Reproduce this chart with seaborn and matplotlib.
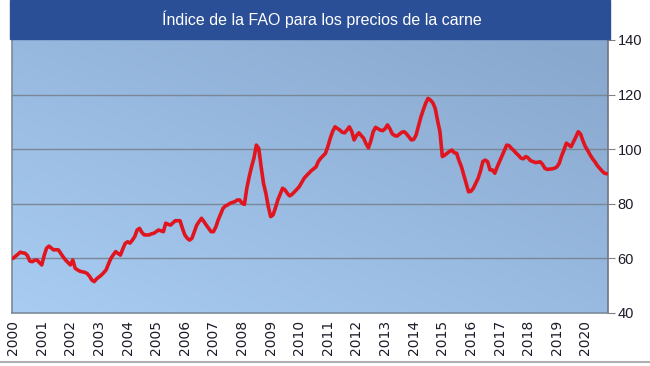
import numpy as np
import pandas as pd
import matplotlib
matplotlib.use("Agg")
import matplotlib.pyplot as plt
import seaborn as sns
from matplotlib.patches import Rectangle

# monthly FAO meat price index, Jan 2000 - Oct 2020
v2000 = [60.0, 60.8, 61.5, 62.3, 62.0, 61.9, 61.0, 59.0, 58.8, 59.3, 59.4, 58.5]
v2001 = [57.6, 61.0, 63.7, 64.5, 63.8, 63.1, 63.2, 63.1, 61.8, 60.5, 59.4, 58.5]
v2002 = [57.6, 59.4, 56.4, 55.8, 55.3, 55.1, 54.9, 54.5, 53.5, 52.1, 51.5, 52.5]
v2003 = [53.2, 53.9, 54.8, 55.8, 58.0, 60.0, 61.3, 62.5, 61.8, 61.2, 63.5, 65.5]
v2004 = [66.1, 65.6, 66.7, 68.0, 70.4, 71.0, 69.5, 68.6, 68.6, 68.6, 69.0, 69.2]
v2005 = [69.8, 70.4, 70.1, 69.8, 72.9, 72.5, 72.2, 73.0, 73.8, 73.8, 73.8, 71.0]
v2006 = [68.6, 67.4, 66.7, 67.4, 69.8, 72.2, 73.5, 74.7, 73.5, 72.2, 71.0, 69.8]
v2007 = [69.8, 71.5, 74.1, 76.2, 78.3, 79.2, 79.6, 80.2, 80.5, 80.8, 81.4, 81.4]
v2008 = [80.2, 79.8, 85.7, 89.9, 93.6, 96.8, 101.5, 100.3, 93.6, 87.5, 83.8, 79.0]
v2009 = [75.3, 75.9, 78.5, 81.4, 83.5, 85.7, 85.1, 83.8, 82.9, 83.5, 84.4, 85.3]
v2010 = [86.3, 87.8, 89.3, 90.3, 91.2, 92.1, 92.8, 93.5, 95.5, 96.7, 97.6, 98.5]
v2011 = [101.0, 104.0, 106.5, 108.2, 107.6, 107.0, 106.2, 106.0, 107.0, 108.2, 106.5, 103.4]
v2012 = [105.0, 106.0, 105.0, 104.0, 102.0, 100.5, 103.0, 106.4, 108.0, 107.5, 107.0, 106.8]
v2013 = [107.5, 108.9, 107.5, 105.6, 105.0, 104.8, 105.5, 106.2, 106.4, 105.6, 104.5, 103.4]
v2014 = [103.6, 105.2, 108.5, 111.8, 114.4, 116.8, 118.6, 118.0, 117.0, 115.0, 110.5, 106.4]
v2015 = [97.3, 97.8, 98.5, 99.2, 99.7, 98.7, 98.5, 95.8, 93.6, 90.5, 87.5, 84.4]
v2016 = [84.6, 85.7, 87.5, 89.3, 92.0, 95.5, 96.0, 95.4, 92.4, 92.4, 91.2, 93.5]
v2017 = [95.5, 97.5, 99.5, 101.5, 101.3, 100.3, 99.5, 98.5, 97.7, 96.7, 96.5, 97.3]
v2018 = [96.8, 95.8, 95.5, 95.1, 95.2, 95.4, 94.5, 93.0, 92.6, 92.7, 92.8, 93.0]
v2019 = [93.5, 94.8, 97.5, 99.7, 102.2, 101.6, 100.9, 102.7, 104.5, 106.4, 105.5, 103.0]
v2020 = [100.9, 99.5, 97.9, 96.5, 95.4, 94.0, 93.0, 92.0, 91.2, 91.0]

values = (v2000 + v2001 + v2002 + v2003 + v2004 + v2005 + v2006 + v2007 + v2008
          + v2009 + v2010 + v2011 + v2012 + v2013 + v2014 + v2015 + v2016
          + v2017 + v2018 + v2019 + v2020)
years = list(range(2000, 2021))
yticks = [40, 60, 80, 100, 120, 140]
title = "Índice de la FAO para los precios de la carne"

df = pd.DataFrame({"t": 2000 + np.arange(len(values)) / 12, "indice": values})

sns.set_style("white")
plt.rcParams["font.family"] = ["Liberation Sans", "DejaVu Sans"]

fig = plt.figure(figsize=(6.5, 3.66), dpi=100)
ax = fig.add_axes([12 / 650, 1 - 313 / 366, 596 / 650, 273 / 366])

# background gradient
gx, gy = np.meshgrid(np.linspace(0, 1, 200), np.linspace(0, 1, 200))
g = np.clip(0.55 * gy + 0.5 * gx, 0, 1)
light = np.array([0.66, 0.80, 0.95])
dark = np.array([0.54, 0.66, 0.81])
img = light[None, None, :] * (1 - g[..., None]) + dark[None, None, :] * g[..., None]
ax.imshow(img, extent=[0, 1, 0, 1], transform=ax.transAxes, origin="lower",
          aspect="auto", zorder=0)

for yv in yticks[1:-1]:
    ax.axhline(yv, color="#7a8796", lw=1.0, zorder=1)

sns.lineplot(data=df, x="t", y="indice", ax=ax, color="#e0151f", lw=2.6,
             zorder=3)

ax.set_xlim(1999.96, 2020.79)
ax.set_ylim(40, 140)
ax.set_xticks(years)
ax.set_xticklabels([str(y) for y in years], rotation=90, fontsize=10,
                   family="DejaVu Sans", color="#1c1c2a")
ax.yaxis.tick_right()
ax.set_yticks(yticks)
ax.set_yticklabels([str(y) for y in yticks], fontsize=10.5, color="#1c1c2a")
ax.tick_params(axis="x", direction="out", length=4, color="#808080", pad=1)
ax.tick_params(axis="y", direction="out", length=5, color="#808080", pad=2)
ax.set_xlabel("")
ax.set_ylabel("")
for s in ["left", "bottom"]:
    ax.spines[s].set_color("#7d8a99")
    ax.spines[s].set_linewidth(1.2)
ax.spines["right"].set_color("#6d7684")
ax.spines["right"].set_linewidth(1.2)
ax.spines["top"].set_visible(False)

# title bar
fig.patches.append(Rectangle((10 / 650, 1 - 39 / 366), 600 / 650, 39 / 366,
                             transform=fig.transFigure, color="#2a4f97",
                             zorder=5))
fig.text(322 / 650, 1 - 19 / 366, title, ha="center", va="center",
         color="white", fontsize=11.5, zorder=6)

# bottom frame line
fig.add_artist(plt.Line2D([0, 1], [1 - 362 / 366, 1 - 362 / 366],
                          transform=fig.transFigure, color="#b0b0b0", lw=1.5))

fig.savefig("out.png", dpi=100)
